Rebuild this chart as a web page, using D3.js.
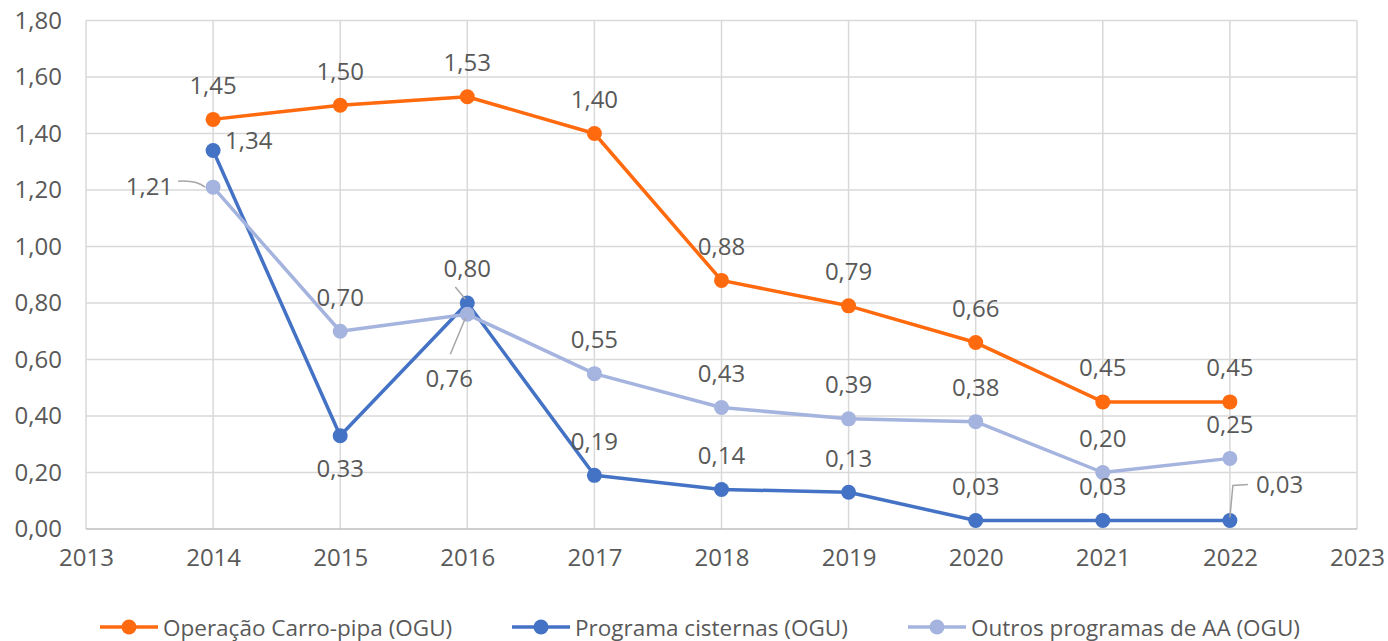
<!DOCTYPE html>
<html><head><meta charset="utf-8">
<script src="https://cdn.jsdelivr.net/npm/d3@7"></script>
<style>body{margin:0;background:#fff}svg{display:block}text{font-family:"Open Sans",sans-serif;fill:#595959}</style>
</head><body>
<svg id="c" width="1388" height="641"></svg>
<script>
const years = [2014,2015,2016,2017,2018,2019,2020,2021,2022];
const carroPipa = [1.45,1.50,1.53,1.40,0.88,0.79,0.66,0.45,0.45];
const cisternas = [1.34,0.33,0.80,0.19,0.14,0.13,0.03,0.03,0.03];
const outros = [1.21,0.70,0.76,0.55,0.43,0.39,0.38,0.20,0.25];
const seriesNames = ["Operação Carro-pipa (OGU)","Programa cisternas (OGU)","Outros programas de AA (OGU)"];
const yTicks = [0,0.2,0.4,0.6,0.8,1.0,1.2,1.4,1.6,1.8];
const xTicks = [2013,2014,2015,2016,2017,2018,2019,2020,2021,2022,2023];

// label placement (style, not data)
const place = [
  ["above","above","above","above","above","above","above","above","above"],
  ["right","below","leaderAbove","above","above","above","above","above","leaderRight"],
  ["leaderLeft","above","leaderBelow","above","above","above","above","above","above"]
];
const colors = ["#FF6A0E","#4472C4","#A5B4DF"];
const allSeries = [carroPipa,cisternas,outros];

const svg = d3.select("#c");
const x = d3.scaleLinear().domain([2013,2023]).range([86,1357]);
const y = d3.scaleLinear().domain([0,1.8]).range([529,20.5]);
const fmt = v => d3.format(".2f")(v).replace(".",",");
const FS = "24px";

// grid
svg.append("g").selectAll("line").data(yTicks.filter(d=>d>0)).join("line")
  .attr("x1",x(2013)).attr("x2",x(2023)).attr("y1",d=>y(d)).attr("y2",d=>y(d))
  .attr("stroke","#d9d9d9").attr("stroke-width",1.5);
svg.append("g").selectAll("line").data(xTicks).join("line")
  .attr("x1",d=>x(d)).attr("x2",d=>x(d)).attr("y1",y(1.8)).attr("y2",y(0))
  .attr("stroke","#d9d9d9").attr("stroke-width",1.5);
svg.append("line").attr("x1",x(2013)).attr("x2",x(2023)).attr("y1",y(0)).attr("y2",y(0))
  .attr("stroke","#bfbfbf").attr("stroke-width",1.5);

// axes labels
const yAxis = d3.axisLeft(y).tickValues(yTicks).tickFormat(fmt).tickSize(0).tickPadding(24);
const ya = svg.append("g").attr("transform",`translate(${x(2013)},0)`).call(yAxis);
ya.select(".domain").remove();
ya.selectAll("text").style("font-size",FS).style("font-family","'Open Sans',sans-serif").attr("fill","#595959");
const xAxis = d3.axisBottom(x).tickValues(xTicks).tickFormat(d3.format("d")).tickSize(0).tickPadding(20);
const xa = svg.append("g").attr("transform",`translate(0,${y(0)})`).call(xAxis);
xa.select(".domain").remove();
xa.selectAll("text").style("font-size",FS).style("font-family","'Open Sans',sans-serif").attr("fill","#595959");

const line = d3.line().x((d,i)=>x(years[i])).y(d=>y(d));
allSeries.forEach((s,k)=>{
  svg.append("path").datum(s).attr("d",line).attr("fill","none")
    .attr("stroke",colors[k]).attr("stroke-width",3.5).attr("stroke-linejoin","round");
});
allSeries.forEach((s,k)=>{
  svg.append("g").selectAll("circle").data(s).join("circle")
    .attr("cx",(d,i)=>x(years[i])).attr("cy",d=>y(d)).attr("r",7.5).attr("fill",colors[k]);
});

// data labels
const lg = svg.append("g").style("font-size",FS);
allSeries.forEach((s,k)=>{
  s.forEach((v,i)=>{
    const px = x(years[i]), py = y(v), p = place[k][i];
    let tx=px, ty=py-35, anchor="middle";
    if(p==="below"){ty=py+32;}
    else if(p==="right"){tx=px+12; ty=py-11; anchor="start";}
    else if(p==="leaderLeft"){tx=px-40; ty=py-2; anchor="end";
      svg.append("path").attr("d",`M${px-35},${py-6} C${px-22},${py-7} ${px-14},${py-5} ${px-8},${py}`)
        .attr("fill","none").attr("stroke","#a6a6a6").attr("stroke-width",1.5);}
    else if(p==="leaderAbove"){tx=px+0; ty=py-36;
      svg.append("line").attr("x1",px-12).attr("y1",py-16).attr("x2",px-2).attr("y2",py-4)
        .attr("stroke","#a6a6a6").attr("stroke-width",1.5);}
    else if(p==="leaderBelow"){tx=px-18; ty=py+63;
      svg.append("line").attr("x1",px-17).attr("y1",py+40).attr("x2",px-2).attr("y2",py+4)
        .attr("stroke","#a6a6a6").attr("stroke-width",1.5);}
    else if(p==="leaderRight"){tx=px+26; ty=py-37; anchor="start";
      svg.append("path").attr("d",`M${px},${py-3} L${px+3},${py-35} L${px+18},${py-36}`)
        .attr("fill","none").attr("stroke","#a6a6a6").attr("stroke-width",1.5);}
    lg.append("text").attr("x",tx).attr("y",ty).attr("text-anchor",anchor)
      .attr("dominant-baseline","central").text(fmt(v));
  });
});

// legend
const legX = [100,512,908];
seriesNames.forEach((n,k)=>{
  const g = svg.append("g").attr("transform",`translate(${legX[k]},627)`);
  g.append("line").attr("x1",0).attr("x2",58).attr("stroke",colors[k]).attr("stroke-width",3.5);
  g.append("circle").attr("cx",29).attr("r",7.5).attr("fill",colors[k]);
  g.append("text").attr("x",63).attr("dominant-baseline","central").style("font-size","22.5px").text(n);
});
</script>
</body></html>
